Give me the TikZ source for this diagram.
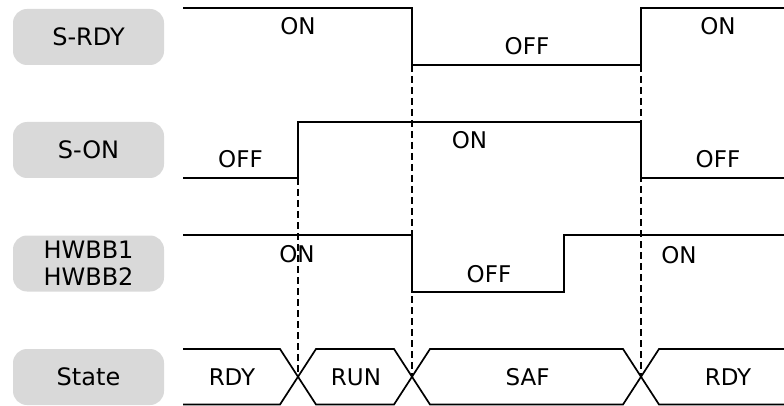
\documentclass[tikz,border=0pt]{standalone}
\usepackage{fontspec}
\setmainfont{DejaVu Sans}
\definecolor{boxgray}{HTML}{D9D9D9}
\begin{document}
\begin{tikzpicture}[x=1pt,y=-1pt,
 lab/.style={fill=boxgray, rounded corners=14pt, minimum width=151pt, minimum height=56pt, inner sep=0pt, align=center, font=\fontsize{24}{27}\selectfont},
 sig/.style={line width=1.7pt, line join=miter},
 guide/.style={line width=1.3pt, dash pattern=on 7pt off 4pt},
 txt/.style={font=\fontsize{23}{26}\selectfont, inner sep=0pt}]
\useasboundingbox (0,0) rectangle (784,406);
% signal name boxes
\node[lab] (nrdy) at (88.5,37) {S-RDY};
\node[lab] (non) at (88.5,150) {S-ON};
\node[lab] (nhw) at (88.5,263.5) {HWBB1\\HWBB2};
\node[lab] (nst) at (88.5,377) {State};
% key coordinates
\coordinate (a1) at (298,178);
\coordinate (a2) at (298,377);
\coordinate (b1) at (412,65);
\coordinate (b2) at (412,377);
\coordinate (c1) at (641,65);
\coordinate (c2) at (641,377);
% guides
\draw[guide] (a1) -- (a2);
\draw[guide] (b1) -- (b2);
\draw[guide] (c1) -- (c2);
% S-RDY
\draw[sig] (183,8) -- (412,8) -- (412,65) -- (641,65) -- (641,8) -- (784,8);
% S-ON
\draw[sig] (183,178) -- (298,178) -- (298,122) -- (641,122) -- (641,178) -- (784,178);
% HWBB
\draw[sig] (183,235) -- (412,235) -- (412,292) -- (564,292) -- (564,235) -- (784,235);
% State
\draw[sig] (183,349) -- (280,349) -- (316,404.5) -- (394,404.5) -- (430,349) -- (623,349) -- (659,404.5) -- (784,404.5);
\draw[sig] (183,404.5) -- (280,404.5) -- (316,349) -- (394,349) -- (430,404.5) -- (623,404.5) -- (659,349) -- (784,349);
% texts
\node[txt] (t1) at (298,26) {ON};
\node[txt] (t2) at (527,46) {OFF};
\node[txt] (t3) at (718,26) {ON};
\node[txt] (t4) at (240.5,159.5) {OFF};
\node[txt] (t5) at (469.5,140) {ON};
\node[txt] (t6) at (718,159) {OFF};
\node[txt] (t7) at (297,254) {ON};
\node[txt] (t8) at (489,274) {OFF};
\node[txt] (t9) at (679,255) {ON};
\node[txt] (s1) at (232,377) {RDY};
\node[txt] (s2) at (356,377) {RUN};
\node[txt] (s3) at (527.5,377) {SAF};
\node[txt] (s4) at (728,377) {RDY};
\end{tikzpicture}
\end{document}
